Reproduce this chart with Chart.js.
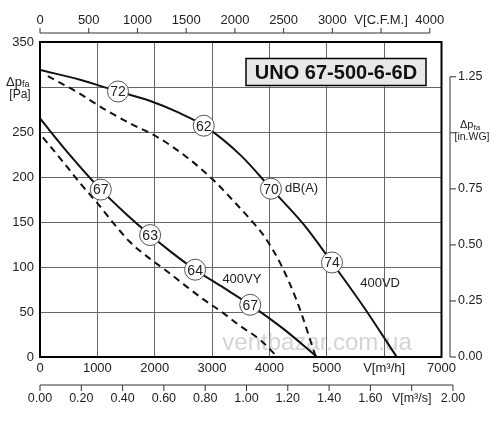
<!DOCTYPE html>
<html>
<head>
<meta charset="utf-8">
<script src="https://cdn.jsdelivr.net/npm/chart.js@4.4.1/dist/chart.umd.min.js"></script>
<style>
  html, body { margin: 0; padding: 0; background: #fff; }
  #wrap { width: 500px; height: 421px; }
</style>
</head>
<body>
<div id="wrap"><canvas id="c" width="500" height="421"></canvas></div>
<script>
// ----------------------
// DATA  (V in m3/h, dp in Pa)
// ----------------------
const vdFlow  = [0, 700, 1360, 1900, 2400, 2860, 3500, 4030, 4600, 5090, 5650, 6220];
const vdPress = [319, 308, 295, 285, 272, 257, 224, 187, 147, 105, 55, 0];

const vdDashFlow  = [136, 630, 1160, 1620, 2030, 2560, 3000, 3320, 3720, 3900, 4190, 4480, 4810];
const vdDashPress = [312, 295, 274, 258, 245, 222, 198, 177, 149, 135, 104, 62, 0];

const vyFlow  = [0, 500, 1060, 1500, 1920, 2300, 2705, 3200, 3665, 4250, 4830];
const vyPress = [265, 226, 186, 159, 135.5, 116, 97, 77, 58, 31, 0];

const vyDashFlow  = [50, 400, 700, 1000, 1290, 1565, 1880, 2220, 2500, 2850, 3170, 3480, 3840, 4140];
const vyDashPress = [244, 217, 193, 171, 148, 128, 111, 95, 81, 64, 50, 35, 19, 0];

// sound level markers dB(A)
const markFlow  = [1360, 2855, 4026, 5091, 1060, 1920, 2705, 3665];
const markPress = [295, 257, 187, 105, 186, 135.5, 97, 58];
const markText  = ["72", "62", "70", "74", "67", "63", "64", "67"];

// secondary axes
const cfmTicks   = [0, 500, 1000, 1500, 2000, 2500, 3000, 3500, 4000];
const cfmLabels  = ["0", "500", "1000", "1500", "2000", "2500", "3000", "V[C.F.M.]", "4000"];
const m3sTicks   = [0, 0.2, 0.4, 0.6, 0.8, 1.0, 1.2, 1.4, 1.6, 1.8, 2.0];
const m3sLabels  = ["0.00", "0.20", "0.40", "0.60", "0.80", "1.00", "1.20", "1.40", "1.60", "V[m³/s]", "2.00"];
const inwgTicks  = [0, 0.25, 0.5, 0.75, 1.0, 1.25];
const inwgLabels = ["0.00", "0.25", "0.50", "0.75", "", "1.25"];

const CFM_TO_M3H = 1.699;
const M3S_TO_M3H = 3600;
const INWG_TO_PA = 249.09;

const toPoints = (xs, ys) => xs.map((x, i) => ({ x: x, y: ys[i] }));

const FONT = "'Liberation Sans', Arial, sans-serif";
const INK = "#222";

// ----------------------
// EXTRA DRAWING (border, secondary axes, labels)
// ----------------------
const extras = {
    id: "extras",
    beforeDatasetsDraw(chart) {
        const { ctx, chartArea: a } = chart;
        ctx.save();
        // watermark
        ctx.fillStyle = "rgba(160,160,160,0.45)";
        ctx.font = "24px " + FONT;
        ctx.textAlign = "center";
        ctx.textBaseline = "middle";
        ctx.fillText("ventbazar.com.ua", 317, 343);
        // frame
        ctx.strokeStyle = "#000";
        ctx.lineWidth = 2;
        ctx.strokeRect(a.left, a.top, a.right - a.left, a.bottom - a.top);
        ctx.restore();
    },
    afterDatasetsDraw(chart) {
        const { ctx } = chart;
        const xs = chart.scales.x, ys = chart.scales.y;
        ctx.save();
        ctx.fillStyle = INK;
        ctx.strokeStyle = "#333";
        ctx.lineWidth = 1;

        // marker numbers
        ctx.font = "14px " + FONT;
        ctx.textAlign = "center";
        ctx.textBaseline = "middle";
        markText.forEach((t, i) => {
            ctx.fillText(t, xs.getPixelForValue(markFlow[i]), ys.getPixelForValue(markPress[i]) + 1);
        });

        // curve labels
        ctx.font = "13px " + FONT;
        ctx.textAlign = "left";
        ctx.fillText("dB(A)", xs.getPixelForValue(4270), ys.getPixelForValue(187));
        ctx.textAlign = "center";
        ctx.fillText("400VY", xs.getPixelForValue(3520), ys.getPixelForValue(86));
        ctx.fillText("400VD", xs.getPixelForValue(5930), ys.getPixelForValue(82));

        // top axis: C.F.M.
        const topY = 33;
        ctx.beginPath();
        ctx.moveTo(xs.getPixelForValue(0), topY);
        ctx.lineTo(xs.getPixelForValue(cfmTicks[cfmTicks.length - 1] * CFM_TO_M3H), topY);
        cfmTicks.forEach(v => {
            const px = xs.getPixelForValue(v * CFM_TO_M3H);
            ctx.moveTo(px, topY);
            ctx.lineTo(px, topY - 5);
        });
        ctx.stroke();
        ctx.font = "13px " + FONT;
        ctx.textAlign = "center";
        cfmTicks.forEach((v, i) => {
            ctx.fillText(cfmLabels[i], xs.getPixelForValue(v * CFM_TO_M3H), 20);
        });

        // bottom axis: m3/s
        const botY = 385;
        ctx.beginPath();
        ctx.moveTo(xs.getPixelForValue(0), botY);
        ctx.lineTo(xs.getPixelForValue(m3sTicks[m3sTicks.length - 1] * M3S_TO_M3H), botY);
        m3sTicks.forEach(v => {
            const px = xs.getPixelForValue(v * M3S_TO_M3H);
            ctx.moveTo(px, botY);
            ctx.lineTo(px, botY + 6);
        });
        ctx.stroke();
        ctx.font = "12.5px " + FONT;
        m3sTicks.forEach((v, i) => {
            ctx.fillText(m3sLabels[i], xs.getPixelForValue(v * M3S_TO_M3H), 399);
        });

        // right axis: in.WG
        const rX = 450;
        ctx.beginPath();
        ctx.moveTo(rX, ys.getPixelForValue(0));
        ctx.lineTo(rX, ys.getPixelForValue(inwgTicks[inwgTicks.length - 1] * INWG_TO_PA));
        inwgTicks.forEach(v => {
            const py = ys.getPixelForValue(v * INWG_TO_PA);
            ctx.moveTo(rX, py);
            ctx.lineTo(rX + 6, py);
        });
        ctx.stroke();
        ctx.textAlign = "left";
        inwgTicks.forEach((v, i) => {
            ctx.fillText(inwgLabels[i], 458, ys.getPixelForValue(v * INWG_TO_PA));
        });

        // axis titles (delta p fa)
        const dp = (x, y, big, small) => {
            ctx.textAlign = "left";
            ctx.font = big + "px " + FONT;
            ctx.fillText("Δp", x, y);
            const w = ctx.measureText("Δp").width;
            ctx.font = small + "px " + FONT;
            ctx.fillText("fa", x + w, y + 3);
        };
        dp(6, 82, 13, 9);
        ctx.font = "12px " + FONT;
        ctx.textAlign = "center";
        ctx.fillText("[Pa]", 20, 95);

        dp(460, 125, 11, 8);
        ctx.font = "10.5px " + FONT;
        ctx.textAlign = "center";
        ctx.fillText("[in.WG]", 472, 137);

        // model box
        ctx.fillStyle = "#e8e8e8";
        ctx.fillRect(246, 58.5, 180, 27);
        ctx.strokeStyle = "#000";
        ctx.lineWidth = 1.5;
        ctx.strokeRect(246, 58.5, 180, 27);
        ctx.fillStyle = "#111";
        ctx.font = "bold 20px " + FONT;
        ctx.textAlign = "center";
        ctx.fillText("UNO 67-500-6-6D", 336, 73);
        ctx.restore();
    }
};

const solid = { borderColor: "#111", borderWidth: 2, pointRadius: 0, fill: false, cubicInterpolationMode: "monotone" };
const dashed = Object.assign({}, solid, { borderDash: [7, 5] });

new Chart(document.getElementById("c"), {
    type: "line",
    data: {
        datasets: [
            {
                label: "dB(A)",
                data: toPoints(markFlow, markPress),
                showLine: false,
                pointRadius: 10.5,
                pointBackgroundColor: "#fff",
                pointBorderColor: "#555",
                pointBorderWidth: 1
            },
            Object.assign({ label: "400VD", data: toPoints(vdFlow, vdPress) }, solid),
            Object.assign({ label: "400VD low", data: toPoints(vdDashFlow, vdDashPress) }, dashed),
            Object.assign({ label: "400VY", data: toPoints(vyFlow, vyPress) }, solid),
            Object.assign({ label: "400VY low", data: toPoints(vyDashFlow, vyDashPress) }, dashed)
        ]
    },
    options: {
        responsive: false,
        animation: false,
        layout: { padding: { left: 0, top: 42, right: 58.5, bottom: 0 } },
        plugins: { legend: { display: false }, tooltip: { enabled: false } },
        scales: {
            x: {
                type: "linear",
                min: 0, max: 7000,
                afterFit: s => { s.height = 64; },
                grid: { color: "#666", lineWidth: 1, drawTicks: false },
                border: { display: false },
                ticks: {
                    stepSize: 1000, padding: 4, color: INK,
                    font: { family: FONT, size: 13 },
                    maxRotation: 0,
                    callback: v => (v === 6000 ? "V[m³/h]" : v)
                }
            },
            y: {
                min: 0, max: 350,
                afterFit: s => { s.width = 40; },
                grid: { color: "#666", lineWidth: 1, drawTicks: false },
                border: { display: false },
                ticks: {
                    stepSize: 50, padding: 6, color: INK,
                    font: { family: FONT, size: 13 },
                    callback: v => (v === 300 ? "" : v)
                }
            }
        }
    },
    plugins: [extras]
});
</script>
</body>
</html>
